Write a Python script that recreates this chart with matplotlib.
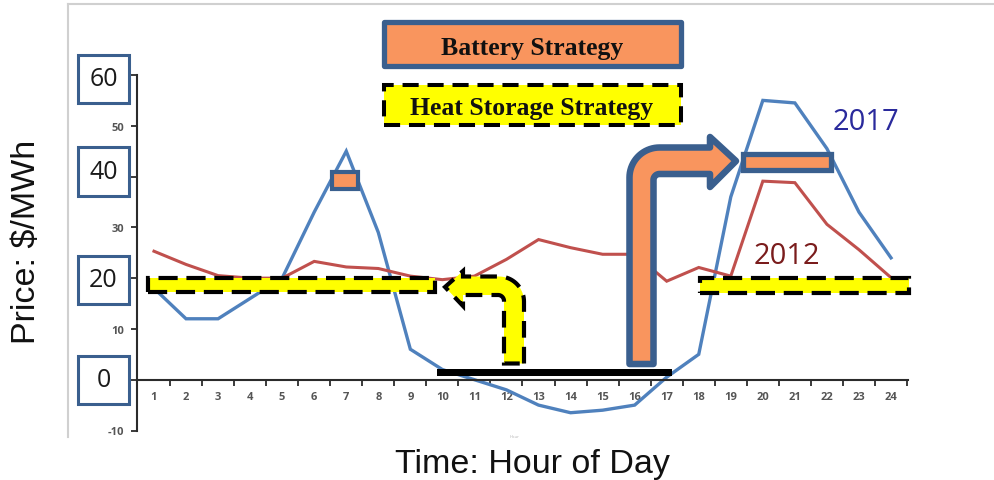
import numpy as np
import matplotlib
matplotlib.use("Agg")
import matplotlib.pyplot as plt
from matplotlib.patches import Rectangle, Polygon
from matplotlib.lines import Line2D
import matplotlib.transforms as mtransforms

# ---------------- data ----------------
hours = list(range(1, 25))
price_2017 = [18, 12, 12, 16, 20, 33, 45, 29, 6, 2, 0, -2, -5, -6.5, -6, -5,
              0.5, 5, 36, 55, 54.5, 45.5, 33, 24]
price_2012 = [25.3, 22.7, 20.5, 20, 20, 23.3, 22.2, 21.9, 20.4, 19.7, 20.4, 23.7,
              27.6, 26, 24.7, 24.7, 19.4, 22.1, 20.4, 39.1, 38.8, 30.6, 25.6, 20.1]
ytick_values = [-10, 0, 10, 20, 30, 40, 50, 60]
boxed_ticks = [60, 40, 20, 0]
small_ticks = [50, 30, 10, -10]
series_labels = ["2017", "2012"]

BLUE = "#4F81BD"
RED = "#C0504D"
ORANGE = "#F9955E"
EDGE = "#3A5F8E"
YELLOW = "#FFFF00"

W, H = 995, 481
fig = plt.figure(figsize=(W / 100, H / 100), dpi=100)
fig.patch.set_facecolor("white")

# page frame lines
fig.add_artist(Line2D([68 / W, 68 / W], [1 - 5 / H, 1 - 438 / H], color="#d0d0d0", lw=1.5))
fig.add_artist(Line2D([68 / W, 1.0], [1 - 5 / H, 1 - 5 / H], color="#d0d0d0", lw=1.5))

ax = fig.add_axes([137 / W, 1 - 431.5 / H, 771 / W, (431.5 - 76) / H])
ax.set_xlim(0.47, 24.53)
ax.set_ylim(-10, 60)
ax.patch.set_alpha(0)

for s in ["top", "right"]:
    ax.spines[s].set_visible(False)
ax.spines["bottom"].set_position(("data", 0))
for s in ["left", "bottom"]:
    ax.spines[s].set_color("#2b2b2b")
    ax.spines[s].set_linewidth(1.5)

# ticks
ax.set_xticks(hours)
ax.set_xticklabels([str(h) for h in hours])
ax.set_xticks(np.arange(1.5, 25, 1.0), minor=True)
ax.tick_params(axis="x", which="major", length=0, pad=8, labelsize=8, labelcolor="#555555")
ax.tick_params(axis="x", which="minor", length=4, width=1.3, color="#2b2b2b", direction="out")
ax.set_yticks(ytick_values)
ax.set_yticklabels([str(v) if v in small_ticks else "" for v in ytick_values])
ax.tick_params(axis="y", length=4, width=1.3, color="#2b2b2b", pad=5.5, labelsize=8,
               labelcolor="#555555")
for lab in ax.get_xticklabels() + ax.get_yticklabels():
    lab.set_fontfamily("Open Sans")
    lab.set_fontweight("bold")

# data lines
ax.plot(hours, price_2017, color=BLUE, lw=2.4, zorder=2, solid_joinstyle="miter")
ax.plot(hours, price_2012, color=RED, lw=2.2, zorder=2, solid_joinstyle="miter")

# boxed tick labels
blend = mtransforms.blended_transform_factory(ax.transAxes, ax.transData)
box_offsets = {60: -0.7, 40: 1.0, 20: -0.3, 0: 0.0}
bw = 51 / 771
bh = 48 / 5.07
for v in boxed_ticks:
    cy = v + box_offsets[v]
    cx = -33.5 / 771
    ax.add_patch(Rectangle((cx - bw / 2, cy - bh / 2), bw, bh, transform=blend,
                           facecolor="white", edgecolor=EDGE, lw=2.2, clip_on=False, zorder=5))
    ax.text(cx, cy, str(v), transform=blend, ha="center", va="center",
            fontsize=18, family="Open Sans", color="#1a1a1a", zorder=6, clip_on=False)

# helper: reference-pixel to data coordinates (for the drawn annotation shapes)
fig.canvas.draw()
inv = ax.transData.inverted()


def P(x, y):
    return inv.transform((x, H - y))


def rect(x0, y0, x1, y1, **kw):
    (a, b) = P(x0, y1)
    (c, d) = P(x1, y0)
    r = Rectangle((a, b), c - a, d - b, clip_on=False, **kw)
    ax.add_patch(r)
    return r


def arc(cx, cy, R, t0, t1, n=20):
    t = np.linspace(t0, t1, n)
    return [(cx + R * np.cos(tt), cy - R * np.sin(tt)) for tt in t]


# Heat storage yellow bars (dashed)
dash = (0, (4.6, 2.1))
rect(148, 279, 435, 293, facecolor=YELLOW, edgecolor="black", lw=3.0, linestyle=dash, zorder=4)
rect(700, 279, 909, 294, facecolor=YELLOW, edgecolor="black", lw=3.0, linestyle=dash, zorder=4)

# Black charging bar
rect(437, 370, 672, 377, facecolor="black", edgecolor="none", zorder=4)

# Battery orange bars
rect(332, 172.5, 358, 189.5, facecolor=ORANGE, edgecolor=EDGE, lw=3.0, zorder=5)
rect(742.5, 154.5, 830.5, 170.5, facecolor=ORANGE, edgecolor=EDGE, lw=3.8, zorder=5)

# Legend-like boxes
rect(384.5, 23.5, 680.5, 66.5, facecolor=ORANGE, edgecolor=EDGE, lw=3.8, zorder=5,
     joinstyle="round")
rect(384.5, 86, 680.5, 126, facecolor=YELLOW, edgecolor="black", lw=2.9, linestyle=(0, (4.0, 2.2)),
     zorder=5)
bx, by = P(532, 55)
ax.text(bx, by, "Battery Strategy", ha="center", va="baseline", fontsize=18.5,
        family="Liberation Serif", weight="bold", color="#111111", zorder=6, clip_on=False)
hx, hy = P(532, 115)
ax.text(hx, hy, "Heat Storage Strategy", ha="center", va="baseline", fontsize=18.5,
        family="Liberation Serif", weight="bold", color="#111111", zorder=6, clip_on=False)

# Big orange bent arrow (battery shift)
xL, xR, yB, yT, yBt, xH = 629.5, 653.5, 365, 148.5, 175, 710
Ro, Ri = 30, 6
pts = [(xL, yB), (xL, yT + Ro)]
pts += arc(xL + Ro, yT + Ro, Ro, np.pi, np.pi / 2)
pts += [(xH, yT), (xH, 138), (736, 162), (xH, 188), (xH, yBt), (xR + Ri, yBt)]
pts += arc(xR + Ri, yBt + Ri, Ri, np.pi / 2, np.pi)
pts += [(xR, yB)]
ax.add_patch(Polygon([P(*p) for p in pts], closed=True, facecolor=ORANGE, edgecolor=EDGE,
                     lw=4.7, joinstyle="round", clip_on=False, zorder=5))

# Yellow bent arrow (heat storage shift)
xR, xL, yB, yT, yBt, xH = 524, 504, 364.5, 277.5, 296, 463
Ro, Ri = 25, 6
pts = [(xR, yB), (xR, yT + Ro)]
pts += arc(xR - Ro, yT + Ro, Ro, 0, np.pi / 2)
pts += [(xH, yT), (xH, 272), (445, 288), (xH, 307), (xH, yBt), (xL - Ri, yBt)]
pts += arc(xL - Ri, yBt + Ri, Ri, np.pi / 2, 0)
pts += [(xL, yB)]
ax.add_patch(Polygon([P(*p) for p in pts], closed=True, facecolor=YELLOW, edgecolor="black",
                     lw=3.0, linestyle=(0, (4.0, 2.2)), clip_on=False, zorder=5))

# Series labels
t1 = P(866, 122.5)
ax.text(t1[0], t1[1], series_labels[0], ha="center", va="center", fontsize=21,
        family="Open Sans", color="#2a2a9c", zorder=6, clip_on=False)
t2 = P(786.5, 256)
ax.text(t2[0], t2[1], series_labels[1], ha="center", va="center", fontsize=21,
        family="Open Sans", color="#7a1c1c", zorder=6, clip_on=False)

# faint remnant axis title
t3 = P(515, 437)
ax.text(t3[0], t3[1], "Hour", ha="center", va="center", fontsize=3, color="#bbbbbb",
        clip_on=False)

# Axis labels
fig.text(27 / W, 1 - 242 / H, "Price: $/MWh", rotation=90, ha="center", va="center",
         fontsize=24.5, family="Liberation Sans", color="#111111")
fig.text(532 / W, 1 - 465 / H, "Time: Hour of Day", ha="center", va="center",
         fontsize=24.5, family="Liberation Sans", color="#111111")

fig.savefig("out.png", dpi=100)
